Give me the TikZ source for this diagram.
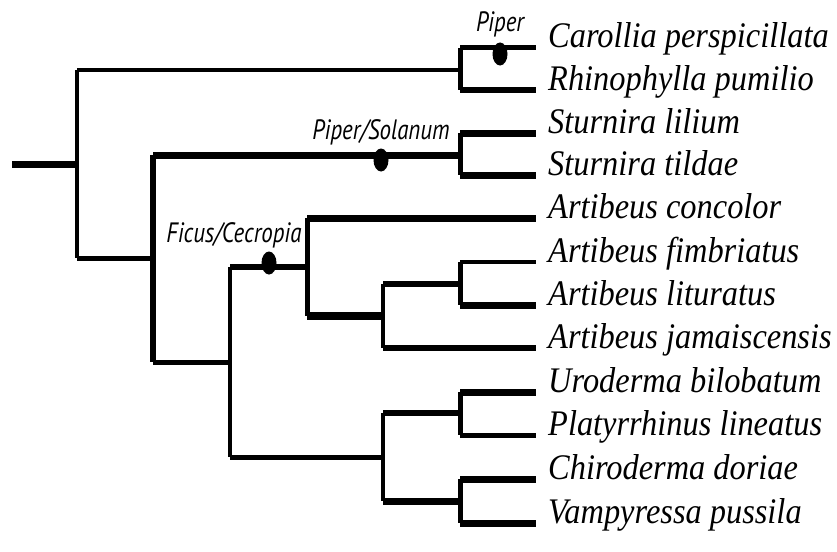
\documentclass[tikz,border=0pt]{standalone}
\usepackage{fontspec}
\usepackage{tikz}
\usetikzlibrary{positioning,shapes.geometric}
\newfontfamily\taxonfont[FakeStretch=0.9]{Liberation Serif}
\newfontfamily\plantfont[FakeStretch=0.82]{PT Sans}

\begin{document}
\begin{tikzpicture}[x=1pt, y=-1pt,
    br/.style={line width=#1pt},
    vbar/.style={line width=#1pt, line cap=square},
    fruit/.style={ellipse, fill=black, minimum width=15pt, minimum height=23pt, inner sep=0pt},
    taxon/.style={font=\taxonfont\itshape\fontsize{36}{36}\selectfont, inner sep=0pt},
    plant/.style={font=\plantfont\itshape\fontsize{28}{28}\selectfont, inner sep=0pt}]

    \useasboundingbox (0,0) rectangle (837,551);

    % tips and species names
    \foreach \y/\name [count=\i] in {48/Carollia perspicillata, 90/Rhinophylla pumilio,
        133/Sturnira lilium, 175/Sturnira tildae, 218/Artibeus concolor,
        262/Artibeus fimbriatus, 305/Artibeus lituratus, 348/Artibeus jamaiscensis,
        392/Uroderma bilobatum, 435/Platyrrhinus lineatus, 479/Chiroderma doriae,
        523/Vampyressa pussila} {
        \coordinate (t\i) at (536,\y);
        \node[taxon, anchor=base west] (s\i) at ([xshift=12pt] t\i) {\name};
    }

    % inner nodes
    \coordinate (stub) at (12,164);
    \coordinate (root) at (77,164);
    \coordinate (cr) at (460,70);
    \coordinate (ss) at (153,258);
    \coordinate (st) at (460,155);
    \coordinate (sh) at (230,362);
    \coordinate (ar) at (307,267);
    \coordinate (fj) at (383,316);
    \coordinate (fl) at (460,284);
    \coordinate (uc) at (383,457);
    \coordinate (up) at (460,413);
    \coordinate (cv) at (460,501);

    % root
    \draw[br=7] (stub) -- (root);
    \draw[vbar=4] (root |- cr) -- (root |- ss);
    \draw[br=4] (root |- cr) -- (cr);
    \draw[br=5] (root |- ss) -- (ss);

    % Carollia / Rhinophylla
    \draw[vbar=5] (cr |- t1) -- (cr |- t2);
    \draw[br=5] (cr |- t1) -- (t1);
    \draw[br=6] (cr |- t2) -- (t2);

    % Sturnira + rest
    \draw[vbar=6] (ss |- st) -- (ss |- sh);
    \draw[br=7] (ss |- st) -- (st);
    \draw[br=5] (ss |- sh) -- (sh);

    % Sturnira
    \draw[vbar=5] (st |- t3) -- (st |- t4);
    \draw[br=7] (st |- t3) -- (t3);
    \draw[br=7] (st |- t4) -- (t4);

    % Artibeus + Uroderma group
    \draw[vbar=4] (sh |- ar) -- (sh |- uc);
    \draw[br=6] (sh |- ar) -- (ar);
    \draw[br=5] (sh |- uc) -- (uc);

    % Artibeus
    \draw[vbar=5] (ar |- t5) -- (ar |- fj);
    \draw[br=7] (ar |- t5) -- (t5);
    \draw[br=8] (ar |- fj) -- (fj);
    \draw[vbar=4] (fj |- fl) -- (fj |- t8);
    \draw[br=6] (fj |- fl) -- (fl);
    \draw[br=6] (fj |- t8) -- (t8);
    \draw[vbar=5] (fl |- t6) -- (fl |- t7);
    \draw[br=4] (fl |- t6) -- (t6);
    \draw[br=7] (fl |- t7) -- (t7);

    % Uroderma ... Vampyressa
    \draw[vbar=4] (uc |- up) -- (uc |- cv);
    \draw[br=6] (uc |- up) -- (up);
    \draw[br=7] (uc |- cv) -- (cv);
    \draw[vbar=5] (up |- t9) -- (up |- t10);
    \draw[br=7] (up |- t9) -- (t9);
    \draw[br=5] (up |- t10) -- (t10);
    \draw[vbar=5] (cv |- t11) -- (cv |- t12);
    \draw[br=7] (cv |- t11) -- (t11);
    \draw[br=7] (cv |- t12) -- (t12);

    % diet shifts
    \node[fruit] (piperdot) at (500,54) {};
    \node[plant, above=5pt of piperdot] (piper) {Piper};
    \node[fruit] (solanumdot) at (381,160) {};
    \node[plant, above=3pt of solanumdot] (solanum) {Piper/Solanum};
    \node[fruit] (ficusdot) at (269,263) {};
    \node[plant, above=3pt of ficusdot, xshift=-35pt] (ficus) {Ficus/Cecropia};
\end{tikzpicture}
\end{document}
